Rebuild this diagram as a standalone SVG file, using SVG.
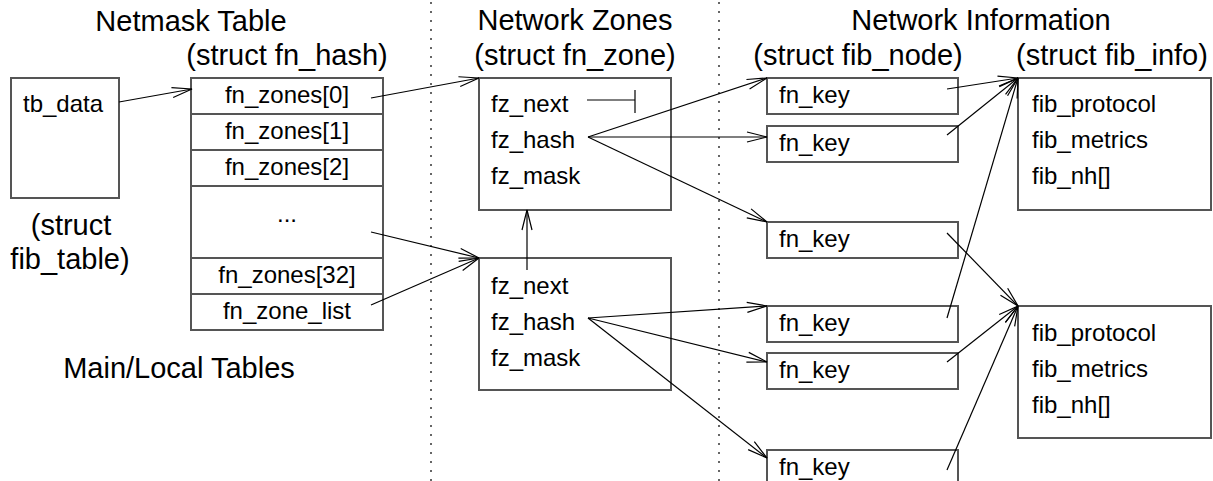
<svg xmlns="http://www.w3.org/2000/svg" width="1213" height="481" viewBox="0 0 1213 481">
<style>
text{font-family:"Liberation Sans",Arial,sans-serif;fill:#000}
.t{font-size:29px}
.b{font-size:24px}
.m{text-anchor:middle}
.box{fill:none;stroke:#555;stroke-width:2}
.ln{fill:none;stroke:#000;stroke-width:1.2}
.arr{fill:none;stroke:#000;stroke-width:1.2;marker-end:url(#ah)}
.sep{stroke:#666;stroke-width:2;stroke-dasharray:2 7}
</style>
<defs>
<marker id="ah" markerUnits="userSpaceOnUse" markerWidth="24" markerHeight="14" viewBox="-22 -7 24 14" refX="0" refY="0" orient="auto" overflow="visible">
<path d="M-20,-5 L0,0 L-20,5" fill="none" stroke="#000" stroke-width="1.2"/>
</marker>
</defs>
<rect width="1213" height="481" fill="#fff"/>
<g id="separators">
<line class="sep" x1="431" y1="2" x2="431" y2="481"/>
<line class="sep" x1="719" y1="2" x2="719" y2="481"/>
</g>
<g id="titles">
<text class="t m" x="191" y="31">Netmask Table</text>
<text class="t m" x="287" y="65">(struct fn_hash)</text>
<text class="t m" x="575" y="30">Network Zones</text>
<text class="t m" x="575" y="65">(struct fn_zone)</text>
<text class="t m" x="981" y="30">Network Information</text>
<text class="t m" x="858" y="65">(struct fib_node)</text>
<text class="t m" x="1112" y="65">(struct fib_info)</text>
<text class="t m" x="71" y="235">(struct</text>
<text class="t m" x="70" y="269">fib_table)</text>
<text class="t m" x="179" y="378">Main/Local Tables</text>
</g>
<g id="fib_table">
<rect class="box" x="11" y="78" width="108" height="120"/>
<text class="b" x="23" y="112">tb_data</text>
</g>
<g id="fn_hash">
<rect class="box" x="191" y="78" width="192" height="252"/>
<line class="box" x1="191" y1="114" x2="383" y2="114"/>
<line class="box" x1="191" y1="150" x2="383" y2="150"/>
<line class="box" x1="191" y1="186" x2="383" y2="186"/>
<line class="box" x1="191" y1="258" x2="383" y2="258"/>
<line class="box" x1="191" y1="294" x2="383" y2="294"/>
<text class="b m" x="287" y="103">fn_zones[0]</text>
<text class="b m" x="287" y="139">fn_zones[1]</text>
<text class="b m" x="287" y="175">fn_zones[2]</text>
<text class="b m" x="287" y="222">...</text>
<text class="b m" x="287" y="283">fn_zones[32]</text>
<text class="b m" x="287" y="319">fn_zone_list</text>
</g>
<g id="zone1">
<rect class="box" x="479" y="78" width="192" height="132"/>
<text class="b" x="491" y="112">fz_next</text>
<text class="b" x="491" y="148">fz_hash</text>
<text class="b" x="491" y="184">fz_mask</text>
</g>
<g id="zone2">
<rect class="box" x="479" y="258" width="192" height="132"/>
<text class="b" x="491" y="294">fz_next</text>
<text class="b" x="491" y="330">fz_hash</text>
<text class="b" x="491" y="366">fz_mask</text>
</g>
<g id="fib_node1"><rect class="box" x="767" y="78" width="191" height="36"/><text class="b" x="779" y="103">fn_key</text></g>
<g id="fib_node2"><rect class="box" x="767" y="126" width="191" height="36"/><text class="b" x="779" y="151">fn_key</text></g>
<g id="fib_node3"><rect class="box" x="767" y="222" width="191" height="36"/><text class="b" x="779" y="247">fn_key</text></g>
<g id="fib_node4"><rect class="box" x="767" y="306" width="191" height="36"/><text class="b" x="779" y="331">fn_key</text></g>
<g id="fib_node5"><rect class="box" x="767" y="353" width="191" height="36"/><text class="b" x="779" y="378">fn_key</text></g>
<g id="fib_node6"><rect class="box" x="767" y="450" width="191" height="40"/><text class="b" x="779" y="475">fn_key</text></g>
<g id="fib_info1">
<rect class="box" x="1018" y="78" width="193" height="132"/>
<text class="b" x="1032" y="112">fib_protocol</text>
<text class="b" x="1032" y="148">fib_metrics</text>
<text class="b" x="1032" y="184">fib_nh[]</text>
</g>
<g id="fib_info2">
<rect class="box" x="1018" y="306" width="193" height="132"/>
<text class="b" x="1032" y="341">fib_protocol</text>
<text class="b" x="1032" y="377">fib_metrics</text>
<text class="b" x="1032" y="413">fib_nh[]</text>
</g>
<g id="connectors">
<line class="arr" x1="119" y1="102" x2="192" y2="89"/>
<line class="arr" x1="371" y1="98" x2="479" y2="78"/>
<line class="arr" x1="371" y1="232" x2="479" y2="258"/>
<line class="arr" x1="371" y1="305" x2="479" y2="258"/>
<line class="ln" x1="587" y1="100" x2="635" y2="100"/>
<line class="ln" x1="635" y1="90" x2="635" y2="113"/>
<line class="arr" x1="527" y1="270" x2="527" y2="210"/>
<line class="arr" x1="588" y1="137" x2="767" y2="78"/>
<line class="arr" x1="588" y1="137" x2="767" y2="137"/>
<line class="arr" x1="588" y1="137" x2="767" y2="222"/>
<line class="arr" x1="588" y1="318" x2="767" y2="306"/>
<line class="arr" x1="588" y1="318" x2="767" y2="362"/>
<line class="arr" x1="588" y1="318" x2="767" y2="458"/>
<line class="arr" x1="947" y1="89" x2="1018" y2="78"/>
<line class="arr" x1="947" y1="135" x2="1018" y2="78"/>
<line class="arr" x1="947" y1="318" x2="1018" y2="78"/>
<line class="arr" x1="947" y1="233" x2="1018" y2="306"/>
<line class="arr" x1="947" y1="362" x2="1018" y2="306"/>
<line class="arr" x1="947" y1="470" x2="1018" y2="306"/>
</g>
</svg>
